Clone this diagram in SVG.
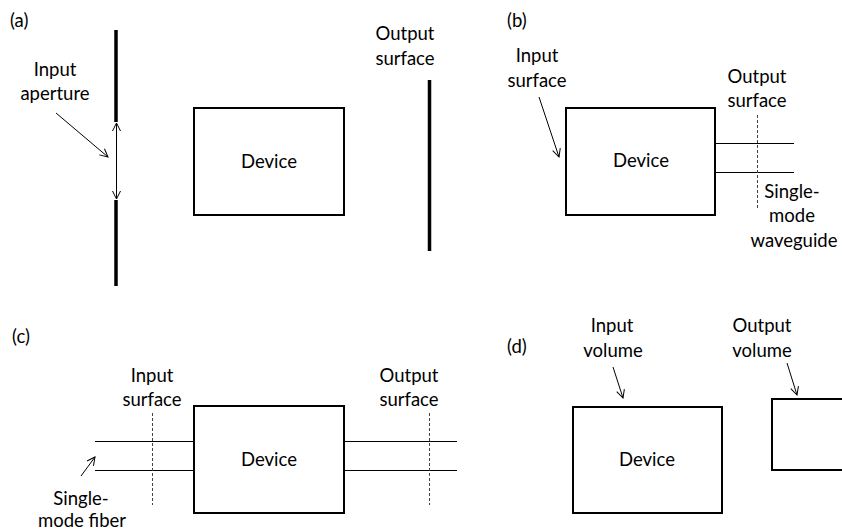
<svg xmlns="http://www.w3.org/2000/svg" width="842" height="531" viewBox="0 0 842 531">
<style>
text{font-family:Lato,"Liberation Sans",sans-serif;font-size:18.5px;fill:#000;text-anchor:middle}
.lab{text-anchor:start}
.box{fill:#fff;stroke:#000;stroke-width:2}
.bar{stroke:#000;stroke-width:3.5}
.thin{stroke:#000;stroke-width:1;fill:none}
.dash{stroke:#444;stroke-width:1;stroke-dasharray:3 2;fill:none}
.arr{stroke:#000;stroke-width:1;fill:none;marker-end:url(#ah)}
</style>
<defs>
<marker id="ah" markerWidth="10" markerHeight="10" refX="9" refY="5" orient="auto" markerUnits="userSpaceOnUse">
<path d="M1,1 L9,5 L1,9" fill="none" stroke="#000" stroke-width="1"/>
</marker>
<marker id="ahs" markerWidth="10" markerHeight="10" refX="9" refY="5" orient="auto-start-reverse" markerUnits="userSpaceOnUse">
<path d="M1,1 L9,5 L1,9" fill="none" stroke="#000" stroke-width="1"/>
</marker>
</defs>

<!-- Panel (a) -->
<text class="lab" x="10" y="27">(a)</text>
<g id="a-aperture">
<line class="bar" x1="116" y1="30" x2="116" y2="122"/>
<line class="bar" x1="116" y1="200" x2="116" y2="286"/>
<text x="55" y="76">Input</text>
<text x="55" y="100">aperture</text>
</g>
<g id="a-device">
<rect class="box" x="194" y="108" width="150" height="107"/>
<text x="269" y="168">Device</text>
</g>
<g id="a-output">
<line class="bar" x1="429.5" y1="80" x2="429.5" y2="251"/>
<text x="405" y="40">Output</text>
<text x="405" y="65">surface</text>
</g>

<!-- Panel (b) -->
<text class="lab" x="507" y="27">(b)</text>
<g id="b-input-label">
<text x="537" y="62">Input</text>
<text x="537" y="87">surface</text>
</g>
<g id="b-device">
<rect class="box" x="566" y="108" width="149" height="107"/>
<text x="641" y="167">Device</text>
</g>
<g id="b-waveguide">
<line class="thin" x1="715" y1="143.5" x2="794" y2="143.5"/>
<line class="thin" x1="715" y1="172.5" x2="794" y2="172.5"/>
<text x="792" y="198">Single-</text>
<text x="792" y="222">mode</text>
<text x="794" y="247">waveguide</text>
</g>
<g id="b-output">
<line class="dash" x1="757.5" y1="115" x2="757.5" y2="208"/>
<text x="757" y="83">Output</text>
<text x="757" y="107">surface</text>
</g>

<!-- Panel (c) -->
<text class="lab" x="12" y="343">(c)</text>
<g id="c-fiber-in">
<line class="thin" x1="95" y1="441.5" x2="194" y2="441.5"/>
<line class="thin" x1="95" y1="470.5" x2="194" y2="470.5"/>
<text x="81" y="505">Single-</text>
<text x="82" y="527">mode fiber</text>
</g>
<g id="c-input">
<line class="dash" x1="152.5" y1="413" x2="152.5" y2="505"/>
<text x="152" y="382">Input</text>
<text x="152" y="406">surface</text>
</g>
<g id="c-device">
<rect class="box" x="194" y="406" width="150" height="107"/>
<text x="269" y="466">Device</text>
</g>
<g id="c-fiber-out">
<line class="thin" x1="344" y1="441.5" x2="457" y2="441.5"/>
<line class="thin" x1="344" y1="470.5" x2="457" y2="470.5"/>
</g>
<g id="c-output">
<line class="dash" x1="429.5" y1="413" x2="429.5" y2="505"/>
<text x="409" y="382">Output</text>
<text x="409" y="406">surface</text>
</g>

<!-- Panel (d) -->
<text class="lab" x="507" y="353">(d)</text>
<g id="d-input-label">
<text x="612" y="332">Input</text>
<text x="613" y="357">volume</text>
</g>
<g id="d-device">
<rect class="box" x="573" y="407" width="149" height="106"/>
<text x="647" y="466">Device</text>
</g>
<g id="d-output">
<rect class="box" x="772" y="399" width="80" height="71"/>
<text x="762" y="332">Output</text>
<text x="762" y="357">volume</text>
</g>

<g id="connectors">
<line class="thin" x1="116.5" y1="123" x2="116.5" y2="199" marker-start="url(#ahs)" marker-end="url(#ah)"/>
<line class="arr" x1="56" y1="113" x2="108" y2="157"/>
<line class="arr" x1="539" y1="97" x2="559" y2="157"/>
<line class="arr" x1="81" y1="476" x2="95" y2="457"/>
<line class="arr" x1="613" y1="367" x2="623" y2="398"/>
<line class="arr" x1="787" y1="363" x2="797" y2="395"/>
</g>
</svg>
